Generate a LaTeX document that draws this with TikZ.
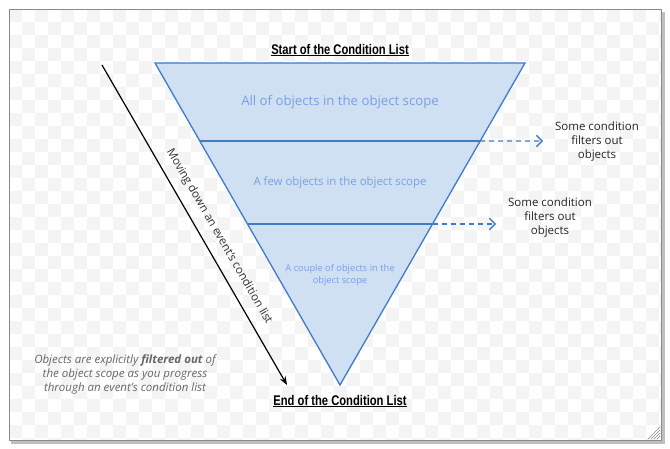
\documentclass[tikz,border=0pt]{standalone}
\usepackage{fontspec}
\setmainfont{Open Sans}
\newfontfamily\headfont{Liberation Sans}
\usetikzlibrary{arrows.meta,positioning,calc}
\definecolor{funnelc}{HTML}{3D7CC9}
\definecolor{funnelbg}{HTML}{CFE0F3}
\definecolor{labelc}{HTML}{7A9FE6}
\definecolor{notec}{HTML}{666666}
\definecolor{checkc}{HTML}{F4F4F4}
\definecolor{framec}{HTML}{8A8A8A}
\tikzset{
  lvl/.style={funnelc,line width=1.3pt},
  dar/.style={-{Straight Barb[length=2mm]},funnelc,line width=1.3pt,dash pattern=on 5pt off 4pt},
  lbl/.style={text=labelc,align=center,inner sep=1pt},
  side/.style={align=center,font=\fontsize{11.5}{14}\selectfont,text=black!85},
  head/.style={font=\headfont\bfseries\fontsize{14}{16}\selectfont,inner sep=1pt}
}

\begin{document}
\begin{tikzpicture}[x=1pt,y=-1pt]
\useasboundingbox (0,0) rectangle (670,449);
\fill[white] (0,0) rectangle (670,449);
% frame with shadow
\fill[black!25] (11,12) rectangle (665,444);
\fill[white] (9,9) rectangle (661,440);
\begin{scope}
\clip (9,9) rectangle (661,440);
\foreach \i in {0,2,...,50}{\foreach \j in {0,2,...,34}{
  \fill[checkc] (9+13*\i,9+13*\j) rectangle ++(13,13);
  \fill[checkc] (22+13*\i,22+13*\j) rectangle ++(13,13);}}
\end{scope}
\draw[framec] (9,9) rectangle (661,440);
\foreach \k in {3,6,9,12}{\draw[black!45] (660-\k,439) -- (660,439-\k);}

% funnel
\coordinate (tl) at (155,63);
\coordinate (tr) at (525,63);
\coordinate (tip) at (340,385);
\filldraw[fill=funnelbg,draw=funnelc,line width=1.3pt] (tl) -- (tr) -- (tip) -- cycle;
\coordinate (l1) at ($(tl)!0.2422!(tip)$);
\coordinate (r1) at ($(tr)!0.2422!(tip)$);
\coordinate (l2) at ($(tl)!0.5!(tip)$);
\coordinate (r2) at ($(tr)!0.5!(tip)$);
\draw[lvl] (l1) -- (r1);
\draw[lvl] (l2) -- (r2);
\coordinate (e1) at (543,141);
\coordinate (e2) at (496,224);
\draw[dar] (r1) -- (e1);
\draw[dar] (r2) -- (e2);

\node[lbl,font=\fontsize{13.2}{15}\selectfont] (all) at (340,102) {All of objects in the object scope};
\node[lbl,font=\fontsize{11.4}{13}\selectfont] (few) at (340,183) {A few objects in the object scope};
\node[lbl,font=\fontsize{9.3}{12.5}\selectfont] (couple) at (340,275) {A couple of objects in the\\object scope};

\node[side] (note1) at (597,142) {Some condition\\filters out\\objects};
\node[side] (note2) at (550,218) {Some condition\\filters out\\objects};

\node[head] (start) at (340,50) {\underline{\scalebox{0.8}[1]{Start of the Condition List}}};
\node[head] (end) at (340,401) {\underline{\scalebox{0.8}[1]{End of the Condition List}}};

% direction arrow
\coordinate (mv0) at (102,65);
\coordinate (mv1) at (287,385);
\draw[-{Stealth[length=3mm]},line width=1.2pt] (mv0) -- (mv1)
  node[pos=0.56,sloped,above=6pt,font=\fontsize{11.5}{13}\selectfont,text=black!80] (movelbl) {Moving down an event's condition list};

\node[align=center,font=\itshape\fontsize{11.5}{14}\selectfont,text=notec] (explain) at (125,374)
  {Objects are explicitly \textbf{filtered out} of\\the object scope as you progress\\through an event's condition list};
\end{tikzpicture}
\end{document}
